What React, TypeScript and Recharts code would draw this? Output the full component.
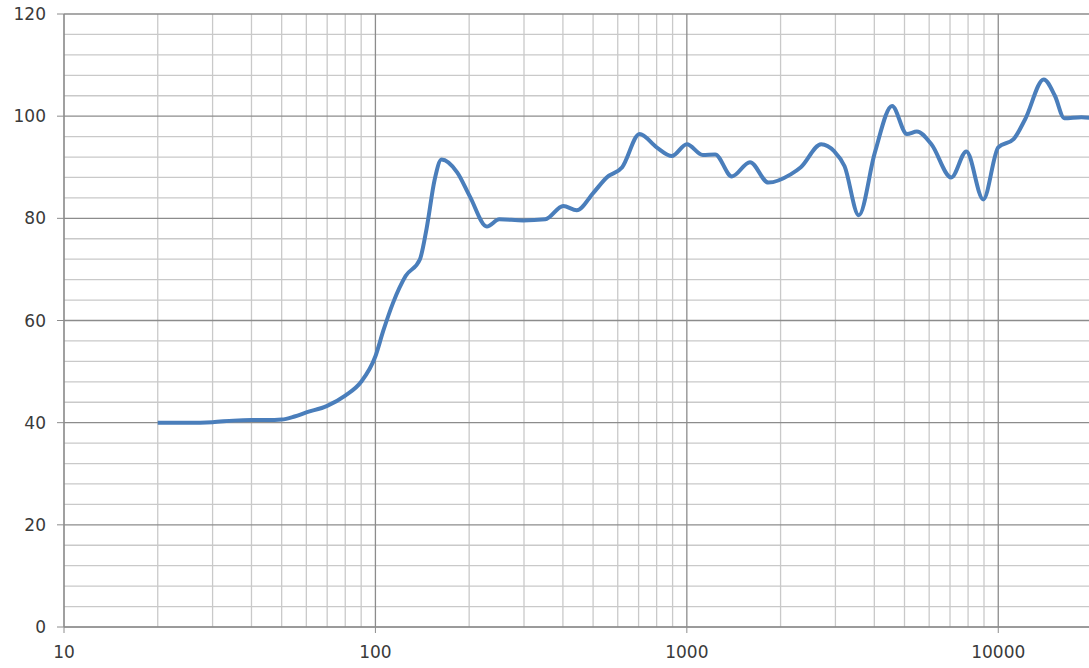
import { LineChart, Line, XAxis, YAxis, ReferenceLine } from "recharts"

const freqs = [
  20, 25, 30, 35, 40, 45, 50, 55, 60, 70, 80, 90, 100, 106, 114, 125, 139, 146, 155, 163, 183, 201, 228, 250, 298,
  351, 401, 443, 501, 553, 620, 705, 800, 895, 1000, 1125, 1233, 1395, 1595, 1828, 2155, 2323, 2700, 2976, 3210,
  3566, 4017, 4560, 5090, 5480, 6100, 7065, 7900, 8950, 10000, 11200, 12200, 14000, 15200, 16300, 18500, 20000,
]
const levels = [
  40.0, 40.0, 40.1, 40.4, 40.5, 40.5, 40.6, 41.2, 42.0, 43.3, 45.3, 48.0, 53.0, 58.0, 63.5, 68.7, 72.0, 78.0, 87.6,
  91.5, 89.0, 84.3, 78.4, 79.8, 79.6, 79.8, 82.4, 81.6, 85.0, 88.0, 90.0, 96.5, 93.9, 92.2, 94.5, 92.4, 92.5, 88.2,
  91.0, 87.0, 88.6, 90.0, 94.5, 93.1, 90.2, 80.6, 92.9, 102.0, 96.5, 97.0, 94.5, 88.0, 93.1, 83.7, 93.9, 95.5, 99.4,
  107.2, 104.0, 99.6, 99.8, 99.6,
]

const xTicks = [10, 100, 1000, 10000]
const xMinor = [20, 30, 40, 50, 60, 70, 80, 90, 200, 300, 400, 500, 600, 700, 800, 900, 2000, 3000, 4000, 5000, 6000, 7000, 8000, 9000]
const yTicks = [0, 20, 40, 60, 80, 100, 120]
const yMinor = [4, 8, 12, 16, 24, 28, 32, 36, 44, 48, 52, 56, 64, 68, 72, 76, 84, 88, 92, 96, 104, 108, 112, 116]

const data = freqs.map((f, i) => ({ f, db: levels[i] }))

const MAJOR = "#8c8c8c"
const MINOR = "#c9c9c9"
const tickStyle = { fill: "#3a3a3a", fontSize: 17, fontFamily: "DejaVu Sans" }

export default function App() {
  return (
    <div style={{ position: "absolute", left: 0, top: 0, width: 1089, height: 668, overflow: "hidden", background: "#fff" }}>
      <LineChart width={1092} height={668} data={data} margin={{ top: 14, right: 0, bottom: 0, left: 0 }}>
        <XAxis
          dataKey="f"
          type="number"
          scale="log"
          domain={[10, 20000]}
          ticks={xTicks}
          allowDataOverflow
          height={41}
          tick={tickStyle}
          tickLine={{ stroke: MAJOR }}
          axisLine={{ stroke: MAJOR }}
          tickSize={6}
          tickMargin={13}
        />
        <YAxis
          type="number"
          domain={[0, 120]}
          ticks={yTicks}
          width={64}
          tick={tickStyle}
          tickLine={{ stroke: MAJOR }}
          axisLine={{ stroke: MAJOR }}
          tickSize={7}
          tickMargin={11}
        />
        {yMinor.map((v) => (
          <ReferenceLine key={"h" + v} y={v} stroke={MINOR} strokeWidth={1.3} />
        ))}
        {xMinor.map((v) => (
          <ReferenceLine key={"v" + v} x={v} stroke={MINOR} strokeWidth={1.3} />
        ))}
        {yTicks.map((v) => (
          <ReferenceLine key={"H" + v} y={v} stroke={MAJOR} strokeWidth={1.3} />
        ))}
        {xTicks.map((v) => (
          <ReferenceLine key={"V" + v} x={v} stroke={MAJOR} strokeWidth={1.3} />
        ))}
        <Line
          type="monotone"
          dataKey="db"
          stroke="#4a7ebb"
          strokeWidth={4}
          dot={false}
          activeDot={false}
          isAnimationActive={false}
        />
      </LineChart>
    </div>
  )
}
